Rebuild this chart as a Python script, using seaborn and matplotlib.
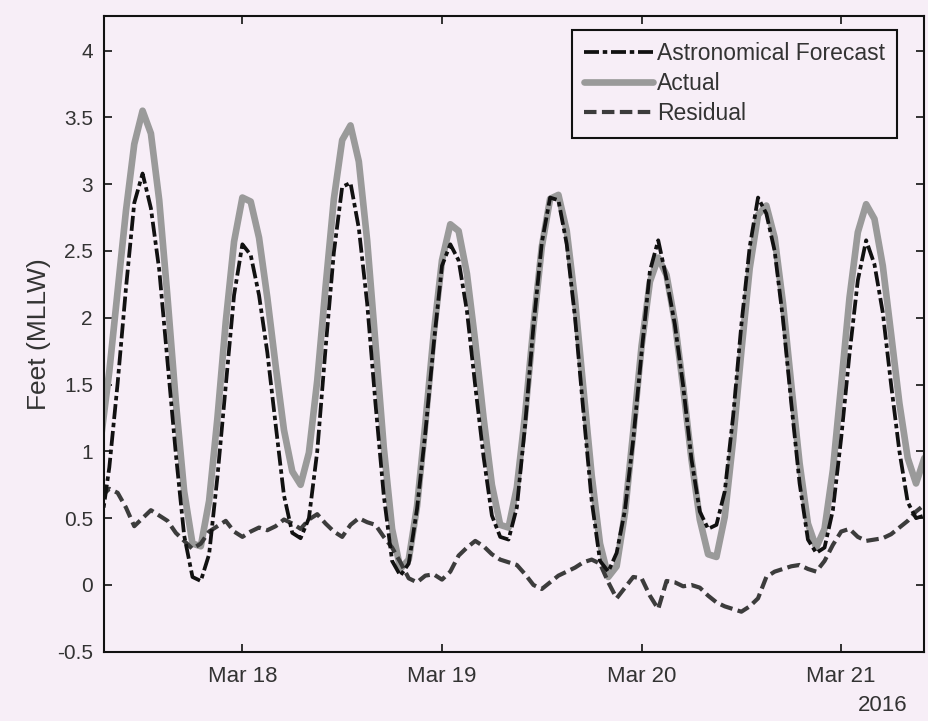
import numpy as np
import pandas as pd
import matplotlib
matplotlib.use("Agg")
import matplotlib.pyplot as plt
import matplotlib.dates as mdates
import seaborn as sns

# hourly samples, hours after 2016-03-17 00:00
hours = np.arange(7, 107)

actual = [1.10, 1.60, 2.20, 2.80, 3.30, 3.55, 3.38, 2.88, 2.15, 1.37,
          0.70, 0.31, 0.29, 0.63, 1.25, 1.97, 2.57, 2.90, 2.87, 2.60,
          2.15, 1.64, 1.16, 0.85, 0.75, 0.99, 1.53, 2.23, 2.89, 3.33,
          3.44, 3.17, 2.58, 1.81, 1.03, 0.42, 0.12, 0.19, 0.59, 1.21,
          1.88, 2.43, 2.70, 2.65, 2.33, 1.82, 1.25, 0.75, 0.45, 0.43,
          0.73, 1.28, 1.94, 2.53, 2.89, 2.92, 2.65, 2.13, 1.47, 0.82,
          0.31, 0.06, 0.14, 0.54, 1.15, 1.79, 2.27, 2.45, 2.32, 1.97,
          1.48, 0.94, 0.49, 0.23, 0.21, 0.51, 1.08, 1.75, 2.37, 2.77,
          2.84, 2.60, 2.11, 1.50, 0.91, 0.46, 0.28, 0.42, 0.86, 1.50,
          2.15, 2.64, 2.85, 2.74, 2.39, 1.88, 1.36, 0.95, 0.76, 0.95]

forecast = [0.44, 0.88, 1.51, 2.22, 2.86, 3.08, 2.82, 2.36, 1.67, 0.98,
            0.37, 0.06, 0.03, 0.23, 0.81, 1.49, 2.17, 2.55, 2.47, 2.17,
            1.74, 1.20, 0.67, 0.39, 0.35, 0.50, 1.00, 1.77, 2.49, 2.98,
            3.01, 2.67, 2.11, 1.36, 0.67, 0.18, 0.07, 0.16, 0.57, 1.14,
            1.80, 2.39, 2.55, 2.43, 2.05, 1.49, 0.96, 0.52, 0.36, 0.34,
            0.58, 1.20, 1.94, 2.56, 2.90, 2.88, 2.55, 2.00, 1.30, 0.63,
            0.18, 0.10, 0.24, 0.56, 1.09, 1.74, 2.35, 2.58, 2.29, 1.95,
            1.49, 0.94, 0.55, 0.42, 0.45, 0.70, 1.26, 1.95, 2.53, 2.90,
            2.78, 2.50, 1.99, 1.36, 0.76, 0.34, 0.24, 0.28, 0.56, 1.10,
            1.73, 2.28, 2.58, 2.40, 2.04, 1.50, 1.00, 0.62, 0.50, 0.52]

residual = [0.66, 0.72, 0.69, 0.58, 0.44, 0.50, 0.56, 0.52, 0.48, 0.39,
            0.33, 0.27, 0.31, 0.40, 0.44, 0.48, 0.40, 0.36, 0.40, 0.43,
            0.41, 0.44, 0.49, 0.46, 0.42, 0.49, 0.53, 0.46, 0.40, 0.36,
            0.45, 0.50, 0.47, 0.45, 0.36, 0.28, 0.17, 0.05, 0.02, 0.07,
            0.08, 0.04, 0.10, 0.22, 0.28, 0.33, 0.29, 0.23, 0.19, 0.17,
            0.15, 0.08, 0.00, -0.03, 0.02, 0.07, 0.10, 0.13, 0.17, 0.19,
            0.16, 0.02, -0.10, -0.02, 0.06, 0.05, -0.08, -0.18, 0.03, 0.02,
            -0.01, 0.00, -0.02, -0.08, -0.13, -0.16, -0.18, -0.20, -0.16, -0.10,
            0.06, 0.10, 0.12, 0.14, 0.15, 0.12, 0.10, 0.18, 0.30, 0.40,
            0.42, 0.36, 0.33, 0.34, 0.35, 0.38, 0.43, 0.48, 0.55, 0.60]

bg = "#f7eef7"
sns.set_theme(style="ticks")
plt.rcParams["font.family"] = ["Liberation Sans", "DejaVu Sans"]
plt.rcParams["axes.unicode_minus"] = False

df = pd.DataFrame({
    "time": pd.Timestamp("2016-03-17") + pd.to_timedelta(hours, unit="h"),
    "actual": actual,
    "forecast": forecast,
    "residual": residual,
})

fig = plt.figure(figsize=(9.29, 7.21), dpi=100, facecolor=bg)
ax = fig.add_axes([0.112, 0.096, 0.883, 0.882], facecolor=bg)

sns.lineplot(data=df, x="time", y="forecast", ax=ax, color="#111111", lw=2.7,
             linestyle=(0, (4, 1, 1.2, 1)), label="Astronomical Forecast", zorder=3)
sns.lineplot(data=df, x="time", y="actual", ax=ax, color="#9a9a9a", lw=4.8,
             label="Actual", zorder=2)
sns.lineplot(data=df, x="time", y="residual", ax=ax, color="#3c3c3c", lw=3.0,
             linestyle=(0, (3, 1.3)), label="Residual", zorder=2.5)

ax.set_xlim(pd.Timestamp("2016-03-17 07:22"), pd.Timestamp("2016-03-21 10:00"))
ax.set_ylim(-0.5, 4.26)
ax.set_yticks(np.arange(-0.5, 4.01, 0.5))
ax.set_yticklabels(["%g" % v for v in np.arange(-0.5, 4.01, 0.5)])
ax.xaxis.set_major_locator(mdates.DayLocator())
ax.xaxis.set_major_formatter(mdates.DateFormatter("%b %d"))

ax.tick_params(direction="in", top=True, right=True, length=6, width=1.2,
               colors="#111111")
ax.tick_params(axis="x", labelsize=16, pad=10, labelcolor="#333333")
ax.tick_params(axis="y", labelsize=15, pad=8, labelcolor="#333333")
for s in ax.spines.values():
    s.set_color("#111111")
    s.set_linewidth(1.5)

ax.set_xlabel("")
ax.set_ylabel("Feet (MLLW)", fontsize=19, color="#333333", labelpad=4)
ax.text(0.98, -0.085, "2016", transform=ax.transAxes, ha="right", va="center",
        fontsize=16, color="#333333")

leg = ax.legend(loc="upper right", bbox_to_anchor=(0.967, 0.978), fontsize=16.5,
                frameon=True, fancybox=False, framealpha=1, facecolor=bg,
                edgecolor="#111111", handlelength=3.0, handletextpad=0.15,
                labelspacing=0.3, borderpad=0.55, borderaxespad=0)
leg.get_frame().set_linewidth(1.5)
for t in leg.get_texts():
    t.set_color("#333333")

fig.savefig("out.png", dpi=100, facecolor=bg)
